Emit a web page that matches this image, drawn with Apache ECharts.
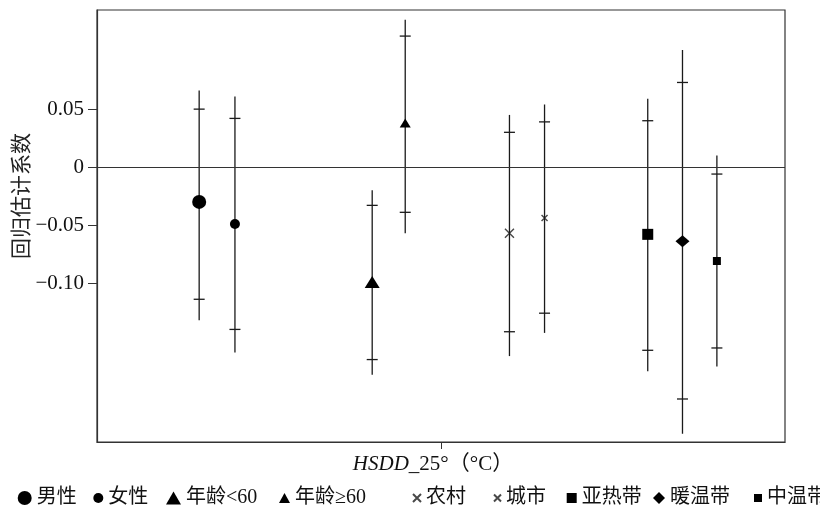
<!DOCTYPE html>
<html>
<head>
<meta charset="utf-8">
<script src="https://cdn.jsdelivr.net/npm/echarts@6/dist/echarts.min.js"></script>
<style>
    html, body { margin: 0; padding: 0; background: #fff; }
    #chart { width: 820px; height: 506px; }
</style>
</head>
<body>
<div id="chart"></div>
<script>
    // 分组及回归估计值
    var groups = ['男性', '女性', '年龄<60', '年龄≥60', '农村', '城市', '亚热带', '暖温带', '中温带'];
    var estimate = [-0.030, -0.049, -0.099, 0.038, -0.057, -0.044, -0.058, -0.064, -0.081];
    var capHigh = [0.050, 0.042, -0.033, 0.113, 0.030, 0.039, 0.040, 0.073, -0.006];
    var capLow = [-0.114, -0.140, -0.166, -0.039, -0.142, -0.126, -0.158, -0.200, -0.156];
    var lineHigh = [0.066, 0.061, -0.020, 0.127, 0.045, 0.054, 0.059, 0.101, 0.010];
    var lineLow = [-0.132, -0.160, -0.179, -0.057, -0.163, -0.143, -0.176, -0.230, -0.172];
    var yTicks = [-0.10, -0.05, 0, 0.05];
    var yTickLabels = {'-0.1': '\u22120.10', '-0.05': '\u22120.05', '0': '0', '0.05': '0.05'};

    // 版式：每组在横轴上的位置、标记样式和图例位置
    var slotX = [-0.703, -0.599, -0.200, -0.104, 0.199, 0.301, 0.601, 0.702, 0.802];
    var crossPath = 'path://M0,0L10,10M10,0L0,10';
    var markers = [
        {symbol: 'circle', size: 14, legend: [14, 14]},
        {symbol: 'circle', size: 10, legend: [10, 10]},
        {symbol: 'triangle', size: [15, 12], legend: [15, 13]},
        {symbol: 'triangle', size: [11, 9], legend: [11, 10]},
        {symbol: crossPath, size: 9, stroke: true, legend: [8, 8]},
        {symbol: crossPath, size: 6, stroke: true, legend: [7, 7]},
        {symbol: 'rect', size: 11, legend: [10, 10]},
        {symbol: 'diamond', size: [14, 12], legend: [12, 12]},
        {symbol: 'rect', size: 8, legend: [8, 8]}
    ];
    var legendTextX = [31.7, 103.3, 181, 290, 420, 500, 576.7, 665, 762];

    var serif = '"Liberation Serif", "Noto Sans CJK SC", serif';
    var ink = '#1a1a1a';

    var whiskerData = groups.map(function (g, i) {
        return [slotX[i], lineLow[i], lineHigh[i], capLow[i], capHigh[i]];
    });

    var series = [{
        type: 'custom',
        silent: true,
        data: whiskerData,
        renderItem: function (params, api) {
            var x = api.value(0);
            var lo = api.coord([x, api.value(1)]);
            var hi = api.coord([x, api.value(2)]);
            var cl = api.coord([x, api.value(3)]);
            var ch = api.coord([x, api.value(4)]);
            var style = {stroke: ink, lineWidth: 1.3, fill: null};
            return {
                type: 'group',
                children: [
                    {type: 'line', shape: {x1: lo[0], y1: lo[1], x2: hi[0], y2: hi[1]}, style: style},
                    {type: 'line', shape: {x1: cl[0] - 5.5, y1: cl[1], x2: cl[0] + 5.5, y2: cl[1]}, style: style},
                    {type: 'line', shape: {x1: ch[0] - 5.5, y1: ch[1], x2: ch[0] + 5.5, y2: ch[1]}, style: style}
                ]
            };
        },
        markLine: {
            silent: true,
            symbol: 'none',
            label: {show: false},
            lineStyle: {color: '#333', width: 1.2, type: 'solid'},
            data: [{yAxis: 0}]
        },
        z: 2
    }];

    groups.forEach(function (g, i) {
        var m = markers[i];
        series.push({
            name: g,
            type: 'scatter',
            symbol: m.symbol,
            symbolSize: m.size,
            silent: true,
            itemStyle: m.stroke
                ? {color: 'transparent', borderColor: ink, borderWidth: 1.4}
                : {color: '#000', opacity: 1},
            data: [[slotX[i], estimate[i]]],
            z: 3
        });
    });

    // 每个图例项单独放置，以复现原图不等的间距
    var legends = groups.map(function (g, i) {
        var w = markers[i].legend[0], h = markers[i].legend[1];
        return {
            data: [g],
            left: legendTextX[i] - 5 - w,
            top: 483,
            itemWidth: w,
            itemHeight: h,
            selectedMode: false,
            textStyle: {fontFamily: serif, fontSize: 20, color: '#111'}
        };
    });

    var chart = echarts.init(document.getElementById('chart'));
    chart.setOption({
        animation: false,
        backgroundColor: '#fff',
        grid: {
            left: 97, right: 35, top: 10, bottom: 64,
            outerBoundsMode: 'none',
            containLabel: false,
            show: true, borderColor: '#333', borderWidth: 1.2
        },
        xAxis: {
            type: 'value',
            min: -1,
            max: 1,
            splitLine: {show: false},
            axisLine: {onZero: false, lineStyle: {color: '#333', width: 1.2}},
            axisTick: {show: true, length: 7, customValues: [0], lineStyle: {color: '#333'}},
            axisLabel: {show: false},
            name: '{i|HSDD_}25°（°C）',
            nameLocation: 'middle',
            nameGap: 12,
            nameTextStyle: {
                fontFamily: serif,
                fontSize: 21,
                color: '#111',
                padding: [0, 16, 0, 0],
                rich: {
                    i: {fontFamily: serif, fontSize: 21, fontStyle: 'italic', color: '#111'}
                }
            }
        },
        yAxis: {
            type: 'value',
            min: -0.2371,
            max: 0.1355,
            splitLine: {show: false},
            axisLine: {show: true, onZero: false, lineStyle: {color: '#333', width: 1.2}},
            axisTick: {show: true, length: 9, customValues: yTicks, lineStyle: {color: '#333'}},
            axisLabel: {
                customValues: yTicks,
                margin: 13,
                fontFamily: serif,
                fontSize: 21,
                color: '#111',
                formatter: function (v) {
                    return yTickLabels[String(Math.round(v * 100) / 100)];
                }
            },
            name: '回归估计系数',
            nameLocation: 'middle',
            nameGap: 66,
            nameMoveOverlap: false,
            nameTextStyle: {
                fontFamily: '"Noto Sans CJK SC", sans-serif',
                fontSize: 21,
                color: '#222',
                padding: [0, 0, 0, 60]
            }
        },
        legend: legends,
        series: series
    });
</script>
</body>
</html>
